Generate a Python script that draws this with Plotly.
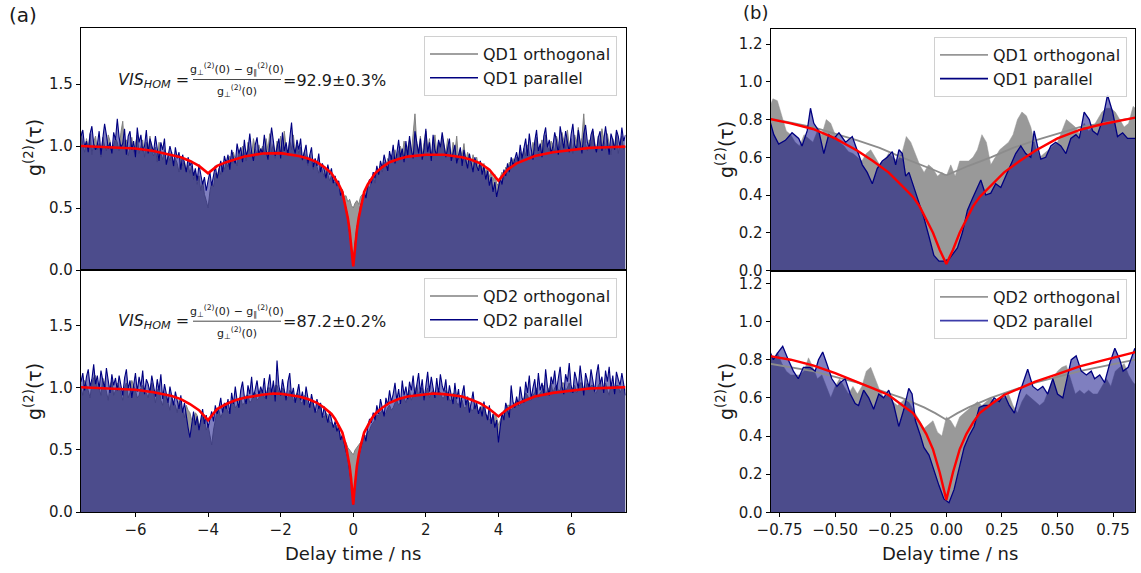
import numpy as np
import plotly.graph_objects as go

# ---------------- data: panel (a) ----------------
T_START, T_STEP, T_N = -7.5, 0.05, 301
tau_a = np.round(T_START + T_STEP * np.arange(T_N), 3)

qd1_par = [1.08, 1.13, 0.99, 1.04, 0.95, 1.10, 1.16, 1.02, 0.97, 1.01, 1.12, 0.93, 1.06, 1.18, 1.09, 0.98, 1.03, 0.94, 1.11, 1.05,
           1.22, 1.07, 0.99, 1.02, 1.14, 0.93, 1.08, 1.12, 0.97, 1.04, 0.91, 1.15, 1.03, 1.09, 0.96, 1.00, 1.13, 0.94, 1.06, 1.01,
           0.95, 1.08, 0.99, 0.88, 1.03, 0.97, 1.06, 0.85, 0.92, 1.00, 0.94, 0.84, 0.99, 0.90, 0.95, 0.81, 0.93, 0.87, 0.79, 0.91,
           0.84, 0.88, 0.76, 0.82, 0.72, 0.85, 0.78, 0.69, 0.75, 0.64, 0.72, 0.79, 0.68, 0.77, 0.84, 0.74, 0.82, 0.88, 0.79, 0.92,
           0.86, 0.93, 0.81, 0.97, 0.90, 0.86, 1.02, 0.94, 0.99, 0.87, 1.05, 0.92, 0.97, 1.10, 0.95, 0.88, 1.01, 1.07, 0.93, 0.98,
           0.94, 1.09, 0.97, 0.89, 1.02, 1.15, 1.04, 0.92, 0.99, 1.06, 0.90, 1.11, 0.96, 1.03, 0.93, 1.08, 1.19, 1.00, 0.94, 1.05,
           0.97, 1.06, 0.89, 0.95, 1.01, 0.86, 0.92, 0.99, 0.83, 0.90, 0.84, 0.94, 0.79, 0.86, 0.81, 0.74, 0.85, 0.77, 0.82, 0.70,
           0.76, 0.68, 0.72, 0.60, 0.64, 0.55, 0.50, 0.42, 0.30, 0.19, 0.05, 0.21, 0.34, 0.41, 0.52, 0.56, 0.63, 0.58, 0.68, 0.73,
           0.70, 0.79, 0.74, 0.84, 0.77, 0.88, 0.82, 0.93, 0.85, 0.80, 0.96, 0.89, 1.01, 0.86, 0.94, 1.05, 0.91, 0.98, 0.87, 1.04,
           0.92, 1.08, 0.97, 0.90, 1.12, 1.01, 0.94, 1.06, 0.89, 0.98, 1.14, 0.95, 1.03, 0.88, 1.09, 0.97, 0.92, 1.05, 0.99, 1.11,
           1.02, 0.91, 0.98, 1.06, 0.88, 0.95, 1.01, 0.86, 0.93, 0.99, 0.84, 0.97, 0.89, 0.82, 0.94, 0.87, 0.79, 0.91, 0.84, 0.80,
           0.88, 0.77, 0.84, 0.73, 0.80, 0.68, 0.75, 0.63, 0.71, 0.59, 0.66, 0.74, 0.69, 0.81, 0.76, 0.86, 0.79, 0.91, 0.84, 0.89,
           0.95, 0.87, 1.01, 0.90, 0.97, 1.06, 0.92, 1.10, 0.98, 0.89, 1.04, 1.13, 0.96, 1.02, 0.91, 1.08, 1.15, 0.99, 1.05, 0.94,
           1.00, 1.11, 1.04, 0.93, 1.16, 1.07, 0.98, 1.12, 1.02, 0.95, 1.09, 1.18, 1.01, 0.97, 1.13, 1.05, 0.94, 1.10, 1.17, 1.03,
           0.98, 1.09, 1.14, 1.01, 0.95, 1.07, 1.12, 0.96, 1.04, 1.16, 1.02, 0.93, 1.10, 1.05, 0.97, 1.13, 1.08, 0.99, 1.15, 1.04, 1.09]

qd1_orth = [1.12, 1.01, 0.95, 1.06, 0.99, 1.10, 0.93, 1.03, 1.08, 0.97, 1.02, 0.91, 1.07, 1.00, 0.96, 1.09, 1.04, 0.94, 1.01, 1.06,
            1.03, 0.96, 1.11, 1.20, 0.98, 1.05, 0.92, 1.00, 1.07, 0.95, 1.02, 1.09, 0.94, 0.99, 1.05, 0.91, 1.03, 0.97, 1.08, 0.96,
            0.92, 0.99, 0.87, 1.03, 0.94, 0.89, 0.97, 0.85, 0.93, 0.88, 0.95, 0.83, 0.90, 0.86, 0.79, 0.91, 0.84, 0.88, 0.80, 0.85,
            0.78, 0.84, 0.73, 0.80, 0.69, 0.76, 0.64, 0.72, 0.61, 0.56, 0.50, 0.63, 0.71, 0.67, 0.78, 0.74, 0.82, 0.77, 0.86, 0.81,
            0.87, 0.83, 0.92, 0.86, 0.95, 0.89, 0.84, 0.97, 0.91, 1.00, 0.94, 0.88, 1.03, 0.96, 0.92, 1.06, 0.98, 0.93, 1.01, 0.95,
            1.00, 0.93, 1.06, 0.97, 1.10, 0.95, 1.02, 0.90, 1.04, 0.98, 1.08, 0.94, 1.12, 0.99, 0.92, 1.05, 0.97, 1.09, 0.95, 1.01,
            0.94, 0.99, 0.88, 0.95, 0.90, 0.84, 0.93, 0.86, 0.81, 0.89, 0.83, 0.78, 0.85, 0.80, 0.75, 0.82, 0.77, 0.72, 0.76, 0.70,
            0.71, 0.67, 0.69, 0.63, 0.65, 0.59, 0.60, 0.55, 0.57, 0.52, 0.50, 0.54, 0.56, 0.53, 0.59, 0.61, 0.58, 0.64, 0.68, 0.66,
            0.72, 0.76, 0.70, 0.80, 0.77, 0.84, 0.79, 0.87, 0.83, 0.90, 0.86, 0.93, 0.88, 0.97, 0.91, 0.95, 1.00, 0.93, 1.04, 0.96,
            0.99, 1.05, 0.94, 1.10, 1.26, 1.02, 0.96, 1.08, 0.93, 1.03, 1.12, 0.97, 1.06, 0.92, 1.01, 1.09, 0.95, 1.04, 0.98, 1.07,
            1.01, 0.94, 1.06, 0.98, 0.91, 1.03, 0.95, 1.08, 0.89, 0.97, 0.92, 1.02, 0.87, 0.95, 0.90, 0.84, 0.93, 0.86, 0.91, 0.83,
            0.88, 0.81, 0.86, 0.78, 0.83, 0.75, 0.80, 0.72, 0.77, 0.70, 0.68, 0.75, 0.79, 0.73, 0.83, 0.80, 0.87, 0.82, 0.90, 0.85,
            0.91, 0.86, 0.95, 0.89, 0.98, 0.92, 1.01, 0.94, 0.90, 1.03, 0.96, 1.07, 0.93, 0.99, 1.05, 0.95, 1.09, 1.00, 0.96, 1.04,
            1.01, 0.95, 1.08, 1.02, 0.97, 1.11, 1.04, 0.98, 1.13, 1.00, 1.06, 0.94, 1.09, 1.03, 1.15, 0.99, 1.07, 1.26, 1.02, 0.96,
            1.05, 0.99, 1.12, 1.03, 0.95, 1.08, 1.00, 1.14, 1.04, 0.97, 1.10, 1.01, 0.93, 1.06, 0.99, 1.11, 0.94, 1.03, 1.08, 0.97, 1.00]

qd2_par = [1.05, 1.12, 0.98, 1.09, 1.15, 1.01, 1.07, 1.19, 1.03, 1.10, 0.99, 1.14, 1.06, 1.00, 1.16, 1.04, 0.96, 1.11, 1.02, 1.08,
           0.98, 1.10, 1.03, 0.94, 1.08, 1.15, 0.99, 1.06, 0.92, 1.04, 1.12, 0.97, 1.09, 1.01, 1.14, 0.95, 1.07, 1.03, 0.96, 1.10,
           1.00, 0.93, 1.07, 0.98, 1.11, 0.91, 1.03, 0.96, 0.88, 1.01, 0.93, 0.86, 0.97, 0.89, 0.83, 0.94, 0.80, 0.88, 0.76, 0.68,
           0.60, 0.72, 0.81, 0.70, 0.77, 0.66, 0.74, 0.83, 0.71, 0.78, 0.68, 0.75, 0.81, 0.73, 0.86, 0.79, 0.84, 0.92, 0.80, 0.88,
           0.83, 0.91, 0.79, 0.96, 0.87, 1.01, 0.90, 0.84, 0.98, 1.05, 0.93, 0.87, 1.02, 0.95, 1.09, 0.92, 0.99, 1.06, 0.94, 1.01,
           0.96, 1.08, 0.91, 1.03, 1.11, 0.95, 1.06, 0.89, 1.22, 1.02, 0.94, 1.07, 0.99, 0.90, 1.05, 1.12, 0.93, 1.00, 0.88, 0.97,
           1.03, 0.90, 0.97, 0.86, 1.01, 0.92, 0.84, 0.95, 0.87, 0.80, 0.91, 0.83, 0.88, 0.76, 0.85, 0.79, 0.72, 0.81, 0.74, 0.68,
           0.73, 0.65, 0.69, 0.58, 0.62, 0.54, 0.49, 0.44, 0.33, 0.23, 0.06, 0.25, 0.37, 0.45, 0.51, 0.58, 0.63, 0.57, 0.69, 0.75,
           0.72, 0.80, 0.74, 0.86, 0.79, 0.91, 0.83, 0.77, 0.92, 0.86, 0.98, 0.89, 0.95, 1.04, 0.90, 0.99, 0.87, 1.06, 0.94, 1.01,
           0.91, 1.05, 0.98, 1.10, 0.93, 1.02, 1.12, 0.96, 1.07, 0.90, 1.04, 1.13, 0.97, 1.09, 1.00, 0.92, 1.08, 0.95, 1.11, 1.02,
           0.97, 1.07, 0.90, 1.02, 0.94, 0.87, 1.04, 0.91, 0.99, 0.84, 0.95, 1.02, 0.86, 0.93, 0.80, 0.90, 0.97, 0.83, 0.88, 0.79,
           0.85, 0.77, 0.89, 0.80, 0.74, 0.86, 0.71, 0.79, 0.68, 0.74, 0.56, 0.69, 0.80, 0.74, 0.88, 0.83, 0.76, 1.02, 0.89, 0.84,
           0.93, 0.86, 1.01, 0.92, 0.88, 1.05, 0.96, 1.10, 0.91, 1.00, 1.07, 0.93, 1.12, 0.98, 1.04, 0.95, 1.15, 1.01, 0.94, 1.09,
           1.03, 1.14, 0.98, 1.08, 1.17, 1.01, 0.95, 1.11, 1.05, 1.20, 1.02, 0.96, 1.13, 1.07, 0.99, 1.18, 1.04, 0.94, 1.12, 1.06,
           1.00, 1.15, 1.06, 0.97, 1.11, 1.19, 1.03, 1.09, 0.96, 1.14, 1.05, 1.17, 1.00, 1.10, 0.95, 1.13, 1.07, 1.02, 1.12, 1.04, 0.94]

qd2_orth = [1.00, 0.94, 1.06, 1.02, 0.98, 0.92, 1.04, 1.08, 1.10, 1.00, 1.00, 0.94, 1.08, 1.04, 0.96, 0.90, 1.02, 1.06, 0.94, 0.98,
            1.04, 1.00, 0.96, 0.90, 1.00, 1.04, 0.92, 0.96, 1.06, 1.02, 0.98, 0.92, 0.94, 1.00, 1.02, 0.96, 0.96, 0.92, 1.00, 1.04,
            0.94, 0.88, 0.98, 1.00, 0.90, 0.86, 0.96, 0.92, 0.88, 0.82, 0.92, 0.88, 0.86, 0.80, 0.90, 0.86, 0.82, 0.76, 0.86, 0.82,
            0.80, 0.74, 0.74, 0.80, 0.78, 0.70, 0.72, 0.78, 0.76, 0.66, 0.70, 0.62, 0.54, 0.66, 0.76, 0.82, 0.82, 0.76, 0.80, 0.86,
            0.86, 0.80, 0.82, 0.88, 0.90, 0.84, 0.86, 0.92, 0.92, 0.86, 0.88, 0.94, 0.94, 0.88, 0.90, 0.96, 0.96, 0.90, 0.92, 0.98,
            0.98, 0.92, 0.94, 1.00, 1.00, 0.94, 0.96, 1.02, 1.02, 0.96, 0.94, 1.00, 0.98, 0.92, 0.92, 0.98, 0.96, 0.90, 0.90, 0.96,
            0.94, 0.88, 0.88, 0.94, 0.92, 0.86, 0.84, 0.90, 0.88, 0.82, 0.80, 0.86, 0.84, 0.78, 0.76, 0.80, 0.78, 0.72, 0.72, 0.70,
            0.68, 0.70, 0.66, 0.62, 0.60, 0.58, 0.56, 0.52, 0.50, 0.48, 0.46, 0.50, 0.52, 0.54, 0.56, 0.58, 0.60, 0.62, 0.64, 0.66,
            0.70, 0.72, 0.74, 0.78, 0.78, 0.80, 0.82, 0.78, 0.80, 0.84, 0.86, 0.82, 0.84, 0.88, 0.90, 0.86, 0.88, 0.92, 0.92, 0.88,
            0.94, 0.98, 0.90, 0.94, 0.98, 1.02, 0.94, 0.98, 1.00, 0.94, 0.96, 1.00, 0.92, 0.96, 0.98, 0.92, 0.94, 0.98, 0.96, 0.92,
            0.92, 0.98, 0.96, 0.90, 0.90, 0.96, 0.94, 0.88, 0.86, 0.92, 0.90, 0.84, 0.84, 0.90, 0.88, 0.82, 0.82, 0.88, 0.86, 0.80,
            0.80, 0.86, 0.84, 0.78, 0.78, 0.74, 0.74, 0.78, 0.80, 0.76, 0.70, 0.74, 0.78, 0.82, 0.82, 0.86, 0.86, 0.82, 0.84, 0.88,
            0.90, 0.86, 0.86, 0.90, 0.92, 0.96, 0.94, 0.90, 0.90, 0.94, 0.96, 1.00, 0.92, 0.96, 0.98, 1.02, 0.94, 0.98, 1.00, 1.04,
            0.96, 1.00, 1.02, 0.98, 0.98, 1.04, 1.04, 0.98, 1.00, 1.04, 0.96, 1.00, 1.02, 0.96, 0.98, 1.04, 1.04, 0.98, 1.00, 1.04,
            0.98, 1.02, 1.02, 0.96, 0.96, 1.02, 1.04, 0.98, 1.00, 1.04, 0.98, 0.94, 1.04, 1.00, 0.96, 1.02, 1.02, 0.96, 1.00, 1.02, 0.98]

fit_a_x = [-7.5, -7, -6.5, -6, -5.5, -5, -4.75, -4.5, -4.25, -4, -3.75, -3.5, -3.25, -3,
           -2.5, -2.2, -2, -1.5, -1.25, -1, -0.8, -0.6, -0.5, -0.4, -0.3, -0.2, -0.15,
           -0.1, -0.06, -0.03, 0, 0.03, 0.06, 0.1, 0.15, 0.2, 0.3, 0.4, 0.5, 0.6, 0.8,
           1, 1.25, 1.5, 2, 2.2, 2.5, 3, 3.25, 3.5, 3.75, 4, 4.25, 4.5, 4.75, 5, 5.5,
           6, 6.5, 7, 7.5]
fit_qd1 = [1.00, 0.995, 0.99, 0.98, 0.96, 0.93, 0.91, 0.88, 0.84, 0.78, 0.84, 0.87, 0.895,
           0.915, 0.94, 0.945, 0.943, 0.92, 0.90, 0.87, 0.83, 0.78, 0.74, 0.69, 0.63, 0.50,
           0.42, 0.32, 0.22, 0.12, 0.03, 0.12, 0.22, 0.32, 0.42, 0.50, 0.63, 0.69, 0.74,
           0.78, 0.83, 0.87, 0.895, 0.915, 0.93, 0.932, 0.93, 0.91, 0.89, 0.86, 0.81, 0.72,
           0.81, 0.86, 0.89, 0.92, 0.95, 0.97, 0.985, 0.99, 0.995]
fit_qd2 = [1.005, 1.0, 0.995, 0.985, 0.965, 0.935, 0.91, 0.87, 0.82, 0.74, 0.83, 0.87, 0.90,
           0.92, 0.945, 0.955, 0.953, 0.93, 0.91, 0.88, 0.84, 0.79, 0.75, 0.70, 0.64, 0.53,
           0.46, 0.37, 0.27, 0.17, 0.06, 0.17, 0.27, 0.37, 0.46, 0.53, 0.64, 0.70, 0.75,
           0.79, 0.84, 0.88, 0.91, 0.93, 0.95, 0.955, 0.95, 0.93, 0.905, 0.875, 0.83, 0.77,
           0.83, 0.87, 0.90, 0.93, 0.96, 0.98, 0.995, 1.0, 1.005]

# ---------------- data: panel (b) ----------------
B_START, B_STEP, B_N = -0.80, 0.02, 84
tau_b = np.round(B_START + B_STEP * np.arange(B_N), 3)

b1_par_x = [-0.800, -0.776, -0.754, -0.724, -0.694, -0.664, -0.649, -0.626, -0.611, -0.596,
            -0.574, -0.551, -0.529, -0.506, -0.483, -0.453, -0.423, -0.401, -0.378, -0.356,
            -0.333, -0.311, -0.288, -0.266, -0.243, -0.228, -0.213, -0.198, -0.183, -0.168,
            -0.146, -0.123, -0.101, -0.078, -0.056, -0.033, -0.011, 0.012, 0.035, 0.050,
            0.072, 0.095, 0.117, 0.140, 0.155, 0.177, 0.200, 0.222, 0.245, 0.267,
            0.290, 0.312, 0.335, 0.357, 0.380, 0.395, 0.410, 0.425, 0.447, 0.470,
            0.492, 0.515, 0.538, 0.560, 0.583, 0.598, 0.620, 0.643, 0.658, 0.680,
            0.703, 0.725, 0.748, 0.770, 0.793, 0.815, 0.849]
b1_par = [0.82, 0.72, 0.67, 0.69, 0.73, 0.70, 0.66, 0.74, 0.86, 0.78,
          0.74, 0.62, 0.72, 0.70, 0.73, 0.68, 0.71, 0.64, 0.56, 0.52,
          0.46, 0.54, 0.58, 0.60, 0.63, 0.56, 0.64, 0.62, 0.50, 0.52,
          0.44, 0.36, 0.28, 0.18, 0.08, 0.05, 0.05, 0.06, 0.10, 0.12,
          0.20, 0.32, 0.38, 0.44, 0.48, 0.40, 0.41, 0.46, 0.44, 0.50,
          0.56, 0.62, 0.66, 0.62, 0.60, 0.74, 0.66, 0.59, 0.60, 0.66,
          0.68, 0.66, 0.62, 0.70, 0.72, 0.70, 0.84, 0.80, 0.74, 0.72,
          0.80, 0.93, 0.84, 0.71, 0.73, 0.70, 0.70]
b1_orth = [0.85, 0.91, 0.90, 0.82, 0.74, 0.72, 0.68, 0.66, 0.72, 0.70,
           0.68, 0.74, 0.72, 0.80, 0.78, 0.72, 0.68, 0.66, 0.63, 0.62,
           0.60, 0.58, 0.62, 0.64, 0.60, 0.56, 0.58, 0.62, 0.60, 0.58,
           0.62, 0.71, 0.68, 0.62, 0.56, 0.52, 0.56, 0.54, 0.50, 0.52,
           0.50, 0.56, 0.50, 0.58, 0.58, 0.58, 0.60, 0.64, 0.72, 0.68,
           0.56, 0.60, 0.64, 0.66, 0.68, 0.72, 0.80, 0.84, 0.82, 0.76,
           0.66, 0.60, 0.62, 0.64, 0.66, 0.68, 0.74, 0.80, 0.78, 0.76,
           0.72, 0.78, 0.74, 0.76, 0.80, 0.84, 0.86, 0.86, 0.84, 0.80,
           0.76, 0.78, 0.87, 0.85]

b2_par_x = [-0.801, -0.778, -0.756, -0.736, -0.711, -0.688, -0.666, -0.643, -0.613, -0.590,
            -0.575, -0.556, -0.538, -0.515, -0.492, -0.477, -0.455, -0.432, -0.410, -0.395,
            -0.372, -0.349, -0.327, -0.304, -0.282, -0.259, -0.236, -0.214, -0.191, -0.169,
            -0.154, -0.139, -0.116, -0.101, -0.078, -0.056, -0.033, -0.011, 0.012, 0.035,
            0.057, 0.080, 0.102, 0.125, 0.148, 0.170, 0.193, 0.215, 0.238, 0.260,
            0.283, 0.306, 0.328, 0.351, 0.366, 0.389, 0.411, 0.434, 0.456, 0.479,
            0.500, 0.524, 0.547, 0.562, 0.584, 0.607, 0.630, 0.652, 0.667, 0.690,
            0.712, 0.735, 0.758, 0.780, 0.795, 0.818, 0.848]
b2_par = [0.86, 0.80, 0.84, 0.87, 0.80, 0.74, 0.70, 0.76, 0.76, 0.74,
          0.80, 0.84, 0.78, 0.70, 0.66, 0.68, 0.70, 0.62, 0.57, 0.56,
          0.64, 0.60, 0.54, 0.62, 0.60, 0.64, 0.56, 0.45, 0.54, 0.65,
          0.62, 0.48, 0.40, 0.34, 0.30, 0.22, 0.14, 0.07, 0.05, 0.12,
          0.22, 0.34, 0.40, 0.45, 0.55, 0.56, 0.56, 0.60, 0.58, 0.62,
          0.56, 0.52, 0.62, 0.70, 0.75, 0.66, 0.64, 0.66, 0.62, 0.70,
          0.62, 0.60, 0.72, 0.80, 0.82, 0.74, 0.72, 0.74, 0.70, 0.72,
          0.68, 0.78, 0.86, 0.80, 0.74, 0.76, 0.86]
b2_orth = [0.88, 0.80, 0.84, 0.78, 0.74, 0.72, 0.72, 0.72, 0.74, 0.81,
           0.76, 0.70, 0.72, 0.66, 0.60, 0.66, 0.70, 0.66, 0.62, 0.66,
           0.62, 0.66, 0.74, 0.76, 0.70, 0.64, 0.60, 0.62, 0.58, 0.56,
           0.58, 0.60, 0.56, 0.52, 0.48, 0.44, 0.46, 0.48, 0.42, 0.40,
           0.50, 0.48, 0.44, 0.50, 0.52, 0.54, 0.56, 0.58, 0.56, 0.58,
           0.60, 0.58, 0.60, 0.60, 0.62, 0.56, 0.52, 0.58, 0.62, 0.60,
           0.58, 0.56, 0.58, 0.64, 0.70, 0.74, 0.76, 0.77, 0.70, 0.62,
           0.64, 0.62, 0.64, 0.62, 0.62, 0.66, 0.70, 0.66, 0.74, 0.76,
           0.78, 0.72, 0.68, 0.66]

orth_fit_x = [-0.85, -0.6, -0.4, -0.3, -0.2, -0.1, -0.05, 0, 0.05, 0.1, 0.2, 0.3, 0.4, 0.6, 0.85]
orth_fit_b1 = [0.82, 0.76, 0.69, 0.65, 0.60, 0.555, 0.53, 0.505, 0.53, 0.555, 0.60, 0.65, 0.69, 0.76, 0.81]
orth_fit_b2 = [0.79, 0.74, 0.68, 0.64, 0.60, 0.55, 0.52, 0.485, 0.52, 0.55, 0.60, 0.64, 0.68, 0.74, 0.80]

par_fit_x = [-0.85, -0.8, -0.7, -0.6, -0.5, -0.4, -0.33, -0.26, -0.2, -0.15, -0.12, -0.09, -0.06,
             -0.03, 0, 0.03, 0.06, 0.09, 0.12, 0.15, 0.2, 0.26, 0.33, 0.4, 0.5, 0.6, 0.7, 0.8, 0.85]
par_fit_b1 = [0.815, 0.805, 0.78, 0.75, 0.70, 0.635, 0.58, 0.52, 0.45, 0.39, 0.34, 0.27, 0.20,
              0.11, 0.035, 0.11, 0.20, 0.27, 0.34, 0.39, 0.45, 0.52, 0.58, 0.635, 0.70, 0.745,
              0.775, 0.80, 0.81]
par_fit_b2 = [0.835, 0.82, 0.80, 0.77, 0.73, 0.685, 0.65, 0.615, 0.565, 0.52, 0.47, 0.41, 0.33,
              0.21, 0.065, 0.21, 0.33, 0.41, 0.47, 0.52, 0.565, 0.615, 0.65, 0.685, 0.725, 0.765,
              0.795, 0.825, 0.84]

legend_a1 = ["QD1 orthogonal", "QD1 parallel"]
legend_a2 = ["QD2 orthogonal", "QD2 parallel"]

# ---------------- styles ----------------
W, H = 1141, 573
FONT = "DejaVu Sans"
TXT = "#1a1a1a"
GRAY_FILL = "rgb(153,153,153)"
GRAY_LINE = "rgb(128,128,128)"
NAVY = "#000080"
NAVY_FILL = "rgba(0,0,128,0.5)"
RED = "#ff0000"


def px(x):
    return x / W


def py(y):
    return 1 - y / H


fig = go.Figure()


def left_panel(xa, ya, orth, par, fit, names, leg):
    fig.add_trace(go.Scatter(x=tau_a[:len(orth)], y=orth, xaxis=xa, yaxis=ya, mode="lines",
                             line=dict(color=GRAY_LINE, width=1.0), fill="tozeroy",
                             fillcolor=GRAY_FILL, showlegend=False, hoverinfo="skip"))
    fig.add_trace(go.Scatter(x=tau_a[:len(par)], y=par, xaxis=xa, yaxis=ya, mode="lines",
                             line=dict(color=NAVY, width=1.1), fill="tozeroy",
                             fillcolor=NAVY_FILL, showlegend=False, hoverinfo="skip"))
    fig.add_trace(go.Scatter(x=fit_a_x, y=fit, xaxis=xa, yaxis=ya, mode="lines",
                             line=dict(color=RED, width=2.6), showlegend=False, hoverinfo="skip"))
    fig.add_trace(go.Scatter(x=[None], y=[None], xaxis=xa, yaxis=ya, mode="lines",
                             line=dict(color=GRAY_LINE, width=1.5), name=names[0], legend=leg))
    fig.add_trace(go.Scatter(x=[None], y=[None], xaxis=xa, yaxis=ya, mode="lines",
                             line=dict(color=NAVY, width=1.5), name=names[1], legend=leg))


def right_panel(xa, ya, orth, par_x, par, ofit, pfit, names, leg, par_leg_color):
    fig.add_trace(go.Scatter(x=tau_b[:len(orth)], y=orth, xaxis=xa, yaxis=ya, mode="lines",
                             line=dict(color=GRAY_FILL, width=0.5), fill="tozeroy",
                             fillcolor=GRAY_FILL, showlegend=False, hoverinfo="skip"))
    fig.add_trace(go.Scatter(x=par_x, y=par, xaxis=xa, yaxis=ya, mode="lines",
                             line=dict(color="rgba(0,0,0,0)", width=0), fill="tozeroy",
                             fillcolor=NAVY_FILL, showlegend=False, hoverinfo="skip"))
    fig.add_trace(go.Scatter(x=orth_fit_x, y=ofit, xaxis=xa, yaxis=ya, mode="lines",
                             line=dict(color="rgb(140,140,140)", width=1.8), showlegend=False,
                             hoverinfo="skip"))
    fig.add_trace(go.Scatter(x=par_x, y=par, xaxis=xa, yaxis=ya, mode="lines",
                             line=dict(color=NAVY, width=1.3), showlegend=False, hoverinfo="skip"))
    fig.add_trace(go.Scatter(x=par_fit_x, y=pfit, xaxis=xa, yaxis=ya, mode="lines",
                             line=dict(color=RED, width=2.4), showlegend=False, hoverinfo="skip"))
    fig.add_trace(go.Scatter(x=[None], y=[None], xaxis=xa, yaxis=ya, mode="lines",
                             line=dict(color="rgb(150,150,150)", width=1.8), name=names[0], legend=leg))
    fig.add_trace(go.Scatter(x=[None], y=[None], xaxis=xa, yaxis=ya, mode="lines",
                             line=dict(color=par_leg_color, width=1.8), name=names[1], legend=leg))


left_panel("x", "y", qd1_orth, qd1_par, fit_qd1, legend_a1, "legend")
left_panel("x2", "y2", qd2_orth, qd2_par, fit_qd2, legend_a2, "legend2")
right_panel("x3", "y3", b1_orth, b1_par_x, b1_par, orth_fit_b1, par_fit_b1, legend_a1, "legend3", NAVY)
right_panel("x4", "y4", b2_orth, b2_par_x, b2_par, orth_fit_b2, par_fit_b2, legend_a2, "legend4",
            "rgb(60,60,170)")

tickfont = dict(family=FONT, size=15, color=TXT)
axis_common = dict(showline=True, linecolor="black", linewidth=1.2, mirror=True, showgrid=False,
                   zeroline=False, ticks="outside", ticklen=4, tickwidth=1, tickcolor="black",
                   tickfont=tickfont, automargin=False)

xa_dom = [px(81), px(625.5)]
xb_dom = [px(770.7), px(1135.3)]

layout_axes = dict(
    xaxis=dict(domain=xa_dom, range=[-7.5, 7.5], anchor="y", showticklabels=False,
               **{**axis_common, "ticks": ""}),
    yaxis=dict(domain=[py(270), py(28.3)], range=[0, 1.95], anchor="x",
               tickvals=[0, 0.5, 1.0, 1.5], tickformat=".1f", **axis_common),
    xaxis2=dict(domain=xa_dom, range=[-7.5, 7.5], anchor="y2", tickvals=[-6, -4, -2, 0, 2, 4, 6],
                **axis_common),
    yaxis2=dict(domain=[py(512), py(270)], range=[0, 1.95], anchor="x2",
                tickvals=[0, 0.5, 1.0, 1.5], tickformat=".1f", **axis_common),
    xaxis3=dict(domain=xb_dom, range=[-0.79, 0.85], anchor="y3", showticklabels=False,
                **{**axis_common, "ticks": ""}),
    yaxis3=dict(domain=[py(270.5), py(29)], range=[0, 1.28], anchor="x3",
                tickvals=[0, 0.2, 0.4, 0.6, 0.8, 1.0, 1.2], tickformat=".1f", **axis_common),
    xaxis4=dict(domain=xb_dom, range=[-0.79, 0.85], anchor="y4",
                tickvals=[-0.75, -0.5, -0.25, 0, 0.25, 0.5, 0.75], tickformat=".2f", **axis_common),
    yaxis4=dict(domain=[py(512.3), py(271)], range=[0, 1.265], anchor="x4",
                tickvals=[0, 0.2, 0.4, 0.6, 0.8, 1.0, 1.2], tickformat=".1f", **axis_common),
)

leg_common = dict(font=dict(family=FONT, size=16, color=TXT), bgcolor="rgba(255,255,255,0.85)",
                  bordercolor="#d0d0d0", borderwidth=1, xanchor="right", yanchor="top",
                  itemwidth=48, tracegroupgap=0)

fig.update_layout(
    width=W, height=H, margin=dict(l=0, r=0, t=0, b=0),
    paper_bgcolor="white", plot_bgcolor="white",
    font=dict(family=FONT, color=TXT),
    legend=dict(x=px(617), y=py(36), **leg_common),
    legend2=dict(x=px(617), y=py(278), **leg_common),
    legend3=dict(x=px(1127), y=py(37), **leg_common),
    legend4=dict(x=px(1127), y=py(279), **leg_common),
    **layout_axes,
)

ann = []


def text(x, y, s, size, xanchor="center", angle=0):
    ann.append(dict(x=px(x), y=py(y), xref="paper", yref="paper", text=s, showarrow=False,
                    xanchor=xanchor, yanchor="middle", textangle=angle,
                    font=dict(family=FONT, size=size, color=TXT)))


text(23, 15, "(a)", 20)
text(755, 12, "(b)", 18)
g2 = "g<sup>(2)</sup>(τ)"
text(33, 148, g2, 19, angle=-90)
text(33, 392, g2, 19, angle=-90)
text(725, 150, g2, 19, angle=-90)
text(725, 392, g2, 19, angle=-90)
text(353, 553, "Delay time / ns", 18)
text(950, 553, "Delay time / ns", 18)

num = "g<sub>⊥</sub><sup>(2)</sup>(0) − g<sub>∥</sub><sup>(2)</sup>(0)"
den = "g<sub>⊥</sub><sup>(2)</sup>(0)"
shapes = []
for dy, val in [(0, "=92.9±0.3%"), (241.7, "=87.2±0.2%")]:
    text(116, 80 + dy, "<i>VIS<sub>HOM</sub></i> =", 16, xanchor="left")
    text(237, 69 + dy, num, 11)
    text(237, 91 + dy, den, 11)
    text(281, 80 + dy, val, 16, xanchor="left")
    shapes.append(dict(type="line", xref="paper", yref="paper", x0=px(193), x1=px(281),
                       y0=py(79.5 + dy), y1=py(79.5 + dy), line=dict(color=TXT, width=0.8)))

fig.update_layout(annotations=ann, shapes=shapes)
fig.write_html("out.html", config={"displayModeBar": False},
               post_script="document.body.style.margin='0px';")
